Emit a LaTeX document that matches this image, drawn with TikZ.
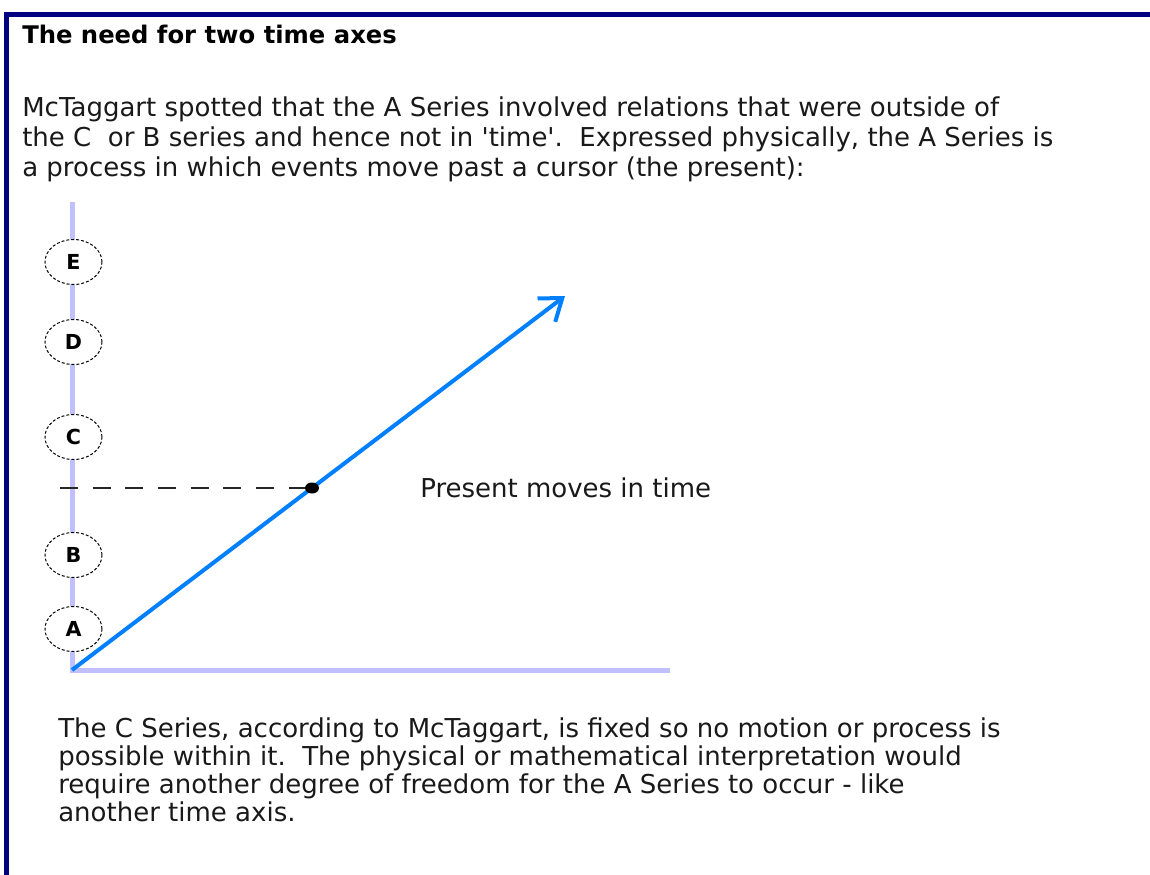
\documentclass[tikz,border=0pt]{standalone}
\usepackage{fontspec}
\newfontfamily\bodyfont{DejaVu Sans}
\usetikzlibrary{arrows.meta,shapes.geometric}
\definecolor{navy}{RGB}{0,0,128}
\definecolor{axislav}{RGB}{192,192,255}
\definecolor{arrowblue}{RGB}{0,128,255}
\begin{document}
\begin{tikzpicture}[x=0.75pt,y=-0.75pt,
  txt/.style={anchor=base west,inner sep=0pt,text=black!90,font=\bodyfont\fontsize{19.5}{23}\selectfont},
  ttl/.style={anchor=base west,inner sep=0pt,font=\bodyfont\bfseries\fontsize{18.2}{22}\selectfont},
  evt/.style={ellipse,draw=black,dash pattern=on 2.2pt off 1.5pt,line width=0.75pt,fill=white,
    minimum width=42.75pt,minimum height=33.75pt,inner sep=0pt,
    font=\bodyfont\bfseries\fontsize{15.5}{17}\selectfont},
  axisline/.style={draw=axislav,line width=3.75pt},
  dashline/.style={draw=black!85,line width=1.2pt,dash pattern=on 13.5pt off 11pt},
  dotnode/.style={ellipse,fill=black,minimum width=10.5pt,minimum height=8.25pt,inner sep=0pt},
  bluearrow/.style={draw=arrowblue,line width=3pt,-{Straight Barb[length=15pt,width=22pt]}}]
\useasboundingbox (0,0) rectangle (1150,875);
% frame
\fill[navy] (4,12) rectangle (1150,17);
\fill[navy] (4,12) rectangle (9,875);
% title and text
\node[ttl] (title) at (22,43) {The need for two time axes};
\node[txt] (p1) at (22,116) {McTaggart spotted that the A Series involved relations that were outside of};
\node[txt] (p2) at (22,146) {the C\ \ or B series and hence not in 'time'.\ \ Expressed physically, the A Series is};
\node[txt] (p3) at (22,176) {a process in which events move past a cursor (the present):};
% axes
\coordinate (O) at (72,670);
\coordinate (vtop) at (72,202);
\coordinate (hend) at (670,670);
\draw[axisline] (vtop) -- (O) -- (hend);
% events
\node[evt] (E) at (73.5,262) {E};
\node[evt] (D) at (73.5,342) {D};
\node[evt] (C) at (73.5,437) {C};
\node[evt] (B) at (73.5,555) {B};
\node[evt] (A) at (73.5,629) {A};
% present
\coordinate (tip) at (565,296);
\draw[bluearrow] (O) -- (tip);
\coordinate (dstart) at (60,488);
\node[dotnode] (P) at (312,488) {};
\draw[dashline] (dstart) -- (P.west);
\node[txt] (lbl) at (420,497) {Present moves in time};
% bottom text
\node[txt] (q1) at (58,737) {The C Series, according to McTaggart, is fixed so no motion or process is};
\node[txt] (q2) at (58,765) {possible within it.\ \ The physical or mathematical interpretation would};
\node[txt] (q3) at (58,793) {require another degree of freedom for the A Series to occur - like};
\node[txt] (q4) at (58,821) {another time axis.};
\end{tikzpicture}
\end{document}
